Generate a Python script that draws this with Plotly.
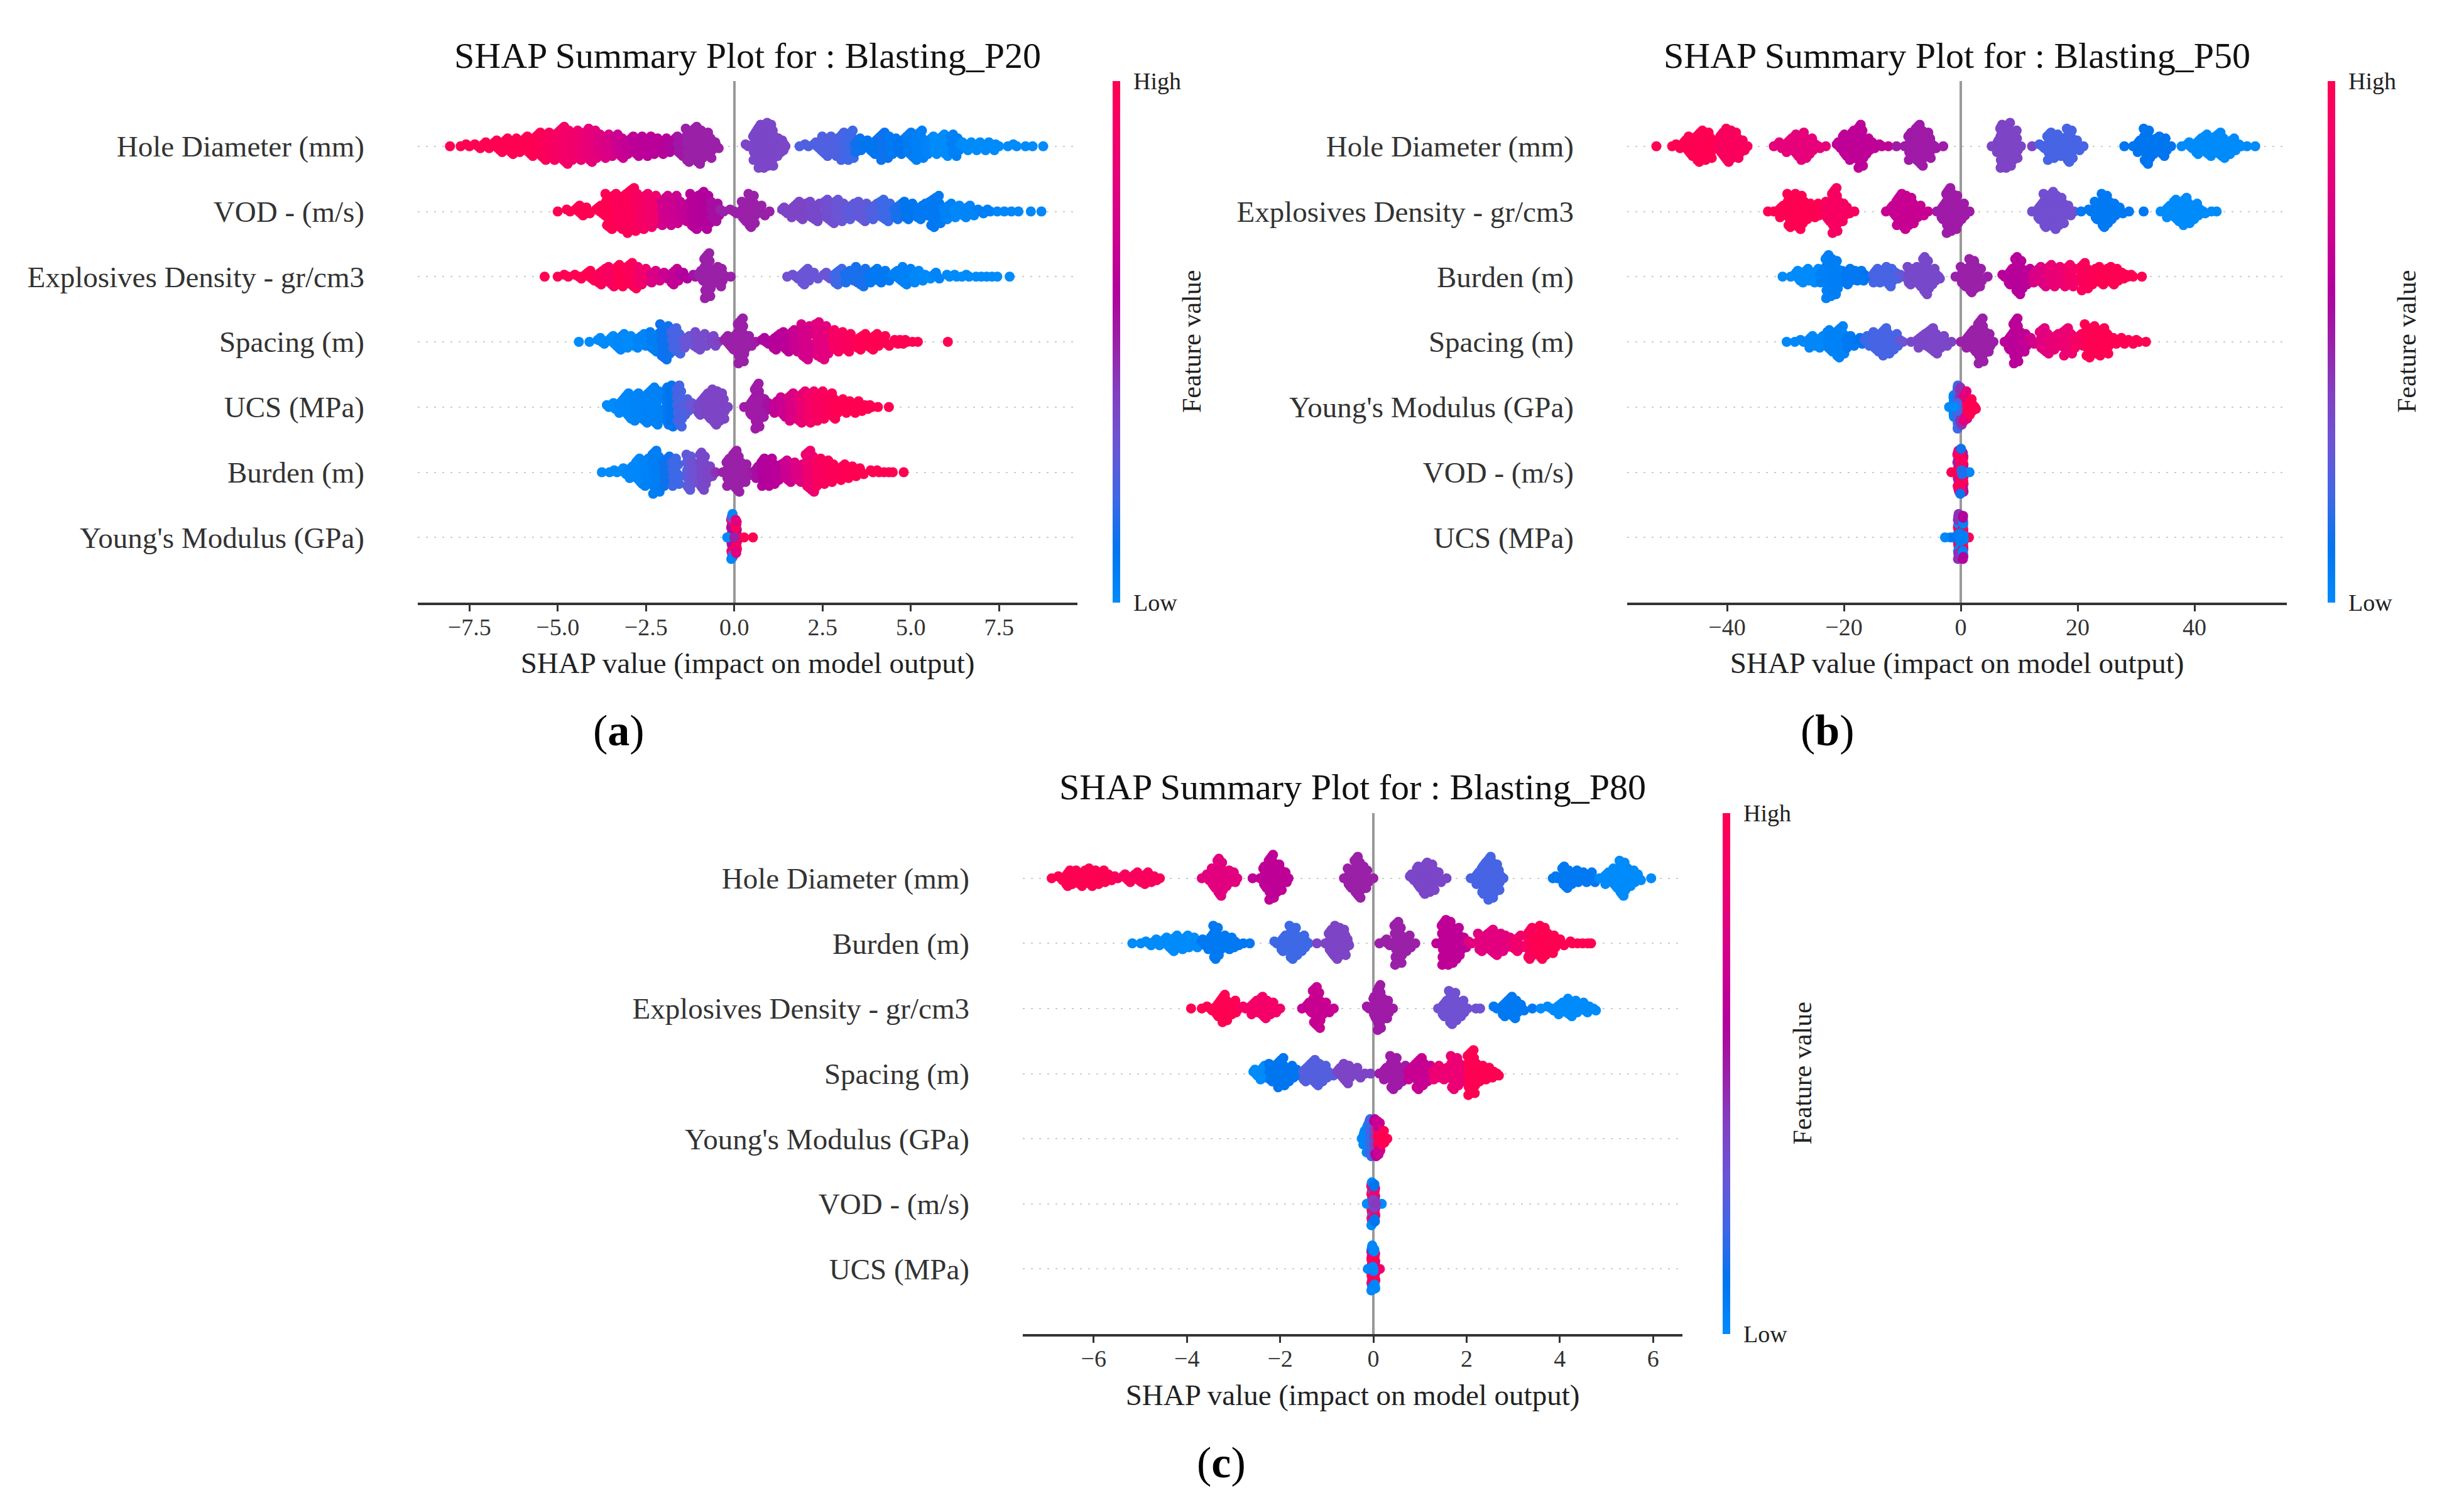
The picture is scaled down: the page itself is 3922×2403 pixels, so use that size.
import math
import plotly.graph_objects as go

W, H = 3922, 2403

# each row of a panel: (shap value, dots stacked at that value, feature value 0-1)
hole_p20 = [(-8.05,1,1),(-7.75,1,1),(-7.5,2,1),(-7.25,3,1),(-7,4,1),(-6.75,6,1),(-6.5,8,1),(-6.25,9,1),(-6,8,1),(-5.75,11,1),
    (-5.5,14,.98),(-5.25,15,.95),(-5,16,.92),(-4.75,20,.9),(-4.5,16,.88),(-4.25,15,.85),(-4,18,.82),(-3.75,13,.78),(-3.5,12,.75),
    (-3.25,13,.7),(-3,9,.66),(-2.75,11,.64),(-2.5,11,.63),(-2.25,10,.63),(-2,9,.62),(-1.75,8,.58),(-1.5,11,.53),(-1.25,18,.5),
    (-1,20,.5),(-.75,14,.5),(-.5,4,.5),(.4,2,.37),(.6,16,.37),(.75,23,.37),(.9,24,.37),(1.05,22,.37),(1.2,11,.37),(1.35,7,.37),(1.45,2,.37),
    (1.85,1,.24),(2.1,2,.24),(2.35,5,.24),(2.6,11,.24),(2.85,11,.24),(3.1,15,.22),(3.3,16,.2),(3.5,8,.12),(3.75,6,.1),(4,9,.1),
    (4.25,15,.12),(4.5,10,.08),(4.75,9,.1),(5,14,.07),(5.25,16,.05),(5.5,9,.03),(5.75,10,0),(6,12,0),(6.25,12,.05),(6.5,5,0),
    (6.75,5,0),(7,5,0),(7.25,5,0),(7.5,2,0),(7.75,1,0),(8,2,0),(8.25,1,0),(8.45,1,0),(8.75,1,0)]
vod_p20 = [(-5,1,1),(-4.65,2,1),(-4.4,6,1),(-4.15,4,1),(-3.8,6,1),(-3.5,19,1),(-3.2,19,.97),(-2.9,24,.97),(-2.6,19,.92),(-2.3,18,.88),
    (-1.95,16,.72),(-1.7,16,.7),(-1.4,11,.66),(-1.1,19,.62),(-.8,20,.6),(-.55,11,.56),(-.3,2,.5),(0,3,.5),(.3,11,.5),(.5,18,.5),(.75,6,.5),(1,1,.5),
    (1.45,4,.38),(1.7,8,.38),(1.95,10,.38),(2.3,11,.36),(2.7,13,.33),(3,12,.3),(3.3,9,.27),(3.65,11,.28),(3.95,9,.24),(4.3,12,.2),
    (4.65,9,.14),(4.95,10,.1),(5.3,9,.08),(5.7,17,.08),(6.05,9,.04),(6.35,7,.02),(6.65,7,.03),(7,3,.05),(7.25,2,.05),(7.45,1,.02),(7.65,1,.02),(7.85,1,.02),(8.05,1,.02),(8.4,1,.02),(8.7,1,.02)]
explosives_p20 = [(-5.37,1,1),(-5,1,1),(-4.7,2,1),(-4.4,3,1),(-4.1,6,1),(-3.75,9,.96),(-3.45,11,.93),(-3.2,12,1),(-2.9,14,.97),(-2.6,10,.88),
    (-2.25,7,.76),(-1.95,4,.7),(-1.7,9,.66),(-1.4,4,.6),(-1.1,2,.54),(-.95,6,.5),(-.75,24,.5),(-.55,8,.5),(-.4,11,.5),(-.25,2,.5),(-.1,1,.5),
    (1.5,1,.32),(1.75,3,.32),(2,9,.3),(2.3,4,.3),(2.65,4,.3),(2.95,9,.2),(3.25,7,.14),(3.6,11,.14),(3.95,8,.08),(4.25,7,.08),(4.6,6,.05),
    (4.9,10,.04),(5.2,7,.02),(5.5,3,0),(5.75,4,.03),(6.1,2,0),(6.3,2,0),(6.45,1,0),(6.65,2,0),(6.85,1,0),(7,1,0),(7.15,1,0),(7.3,1,0),(7.45,1,0),(7.8,1,0)]
spacing_p20 = [(-4.4,1,0),(-4.1,1,0),(-3.75,4,0),(-3.45,6,0),(-3.2,9,.02),(-2.95,7,0),(-2.65,8,.03),(-2.25,11,.06),(-1.95,19,.12),(-1.65,14,.22),
    (-1.3,7,.3),(-.95,10,.35),(-.6,6,.37),(-.45,1,.4),(-.2,6,.5),(0,9,.5),(.2,24,.5),(.4,7,.5),(.6,1,.52),(.9,4,.58),(1.2,9,.62),(1.5,11,.63),
    (1.75,12,.68),(2.05,19,.74),(2.5,20,.8),(2.9,12,.92),(3.2,11,.95),(3.6,9,1),(3.95,9,1),(4.25,6,1),(4.6,3,1),(4.75,3,1),(4.9,2,1),(5.05,1,1),(5.2,1,1),(6.05,1,1)]
ucs_p20 = [(-3.55,2,0),(-3.4,4,0),(-3.2,8,.02),(-3,14,.02),(-2.72,15,.03),(-2.44,17,.04),(-2.2,20,.04),(-1.87,20,.08),(-1.77,22,.1),(-1.55,22,.22),
    (-1.38,9,.24),(-1.17,4,.3),(-.95,9,.36),(-.75,14,.38),(-.53,19,.38),(-.35,15,.38),(-.18,1,.38),(.28,1,.52),(.5,9,.52),(.66,24,.52),(.81,11,.52),
    (.99,4,.55),(1.2,7,.66),(1.41,11,.7),(1.66,15,.76),(1.94,17,.84),(2.19,17,.9),(2.44,16,.94),(2.76,14,.97),(3,8,1),(3.25,7,1),(3.5,7,1),(3.75,3,1),(3.9,2,1),(4.07,1,1),(4.38,1,1)]
burden_p20 = [(-3.75,1,0),(-3.53,1,0),(-3.32,2,0),(-3.11,4,0),(-2.9,7,.02),(-2.69,14,.02),(-2.44,15,.04),(-2.2,23,.06),(-1.9,16,.12),(-1.66,15,.2),
    (-1.27,19,.28),(-1.1,11,.32),(-.88,20,.36),(-.7,7,.38),(-.53,1,.45),(-.32,1,.5),(-.14,15,.5),(.07,22,.5),(.28,11,.5),(.5,1,.52),(.67,7,.56),
    (.85,15,.6),(1.06,15,.62),(1.27,9,.64),(1.55,12,.7),(1.84,11,.78),(2.16,22,.87),(2.44,15,.94),(2.72,12,.97),(3.04,9,.98),(3.32,7,1),(3.6,4,1),(3.93,2,1),(4.1,2,1),(4.24,1,1),(4.38,1,1),(4.49,1,1),(4.8,1,1)]
young_p20 = [(-.06,8,.9),(-.06,6,.55),(-.06,4,.85),(-.06,4,.3),(-.06,2,.02),(.06,8,.6),(.06,6,.95),(.06,4,.8),(-.2,1,0),(.28,1,1),(.53,1,1),(.1,1,.95),(0,1,.5)]

hole_p50 = [(-52.1,1,1),(-49.4,1,1),(-48.3,3,1),(-47.2,6,1),(-46.1,11,1),(-44.6,17,1),(-43.2,15,1),(-41.8,4,.98),(-40.7,14,.95),(-39.6,18,.95),(-38.5,14,.95),(-37.4,7,.95),(-36.5,1,.95),
    (-32,1,.82),(-30.9,4,.82),(-29.4,8,.82),(-28,12,.82),(-26.9,15,.82),(-25.8,9,.82),(-24.4,3,.82),(-23.1,1,.82),
    (-20.8,4,.65),(-19.7,12,.65),(-18.6,16,.65),(-17.1,23,.65),(-16.1,9,.65),(-15,4,.65),(-13.5,2,.65),(-12.4,1,.65),
    (-11,1,.52),(-9.6,1,.52),(-8.5,15,.52),(-7,22,.52),(-5.6,14,.52),(-4.5,3,.52),(-3,1,.52),
    (5.3,1,.38),(6.4,7,.38),(7.1,23,.38),(8.2,24,.38),(9.3,16,.38),(10.3,1,.38),(12.2,1,.38),
    (14,3,.22),(15.4,15,.22),(16.9,12,.22),(18.7,18,.22),(19.8,6,.22),(21,1,.22),
    (28,1,.1),(29.5,1,.1),(30.6,7,.1),(31.9,19,.1),(33.1,9,.1),(34.6,11,.1),(36,1,.1),
    (37.8,1,0),(39.3,4,0),(40.7,9,0),(42.5,12,0),(44.4,14,0),(46.2,9,0),(48,2,0),(49,1,0),(50.4,1,0)]
explosives_p50 = [(-33,1,1),(-32,1,1),(-30.5,7,1),(-29,18,1),(-27.6,19,1),(-26.2,10,1),(-24.7,8,1),(-23.8,2,1),
    (-22.6,11,.93),(-21.5,24,.93),(-20.4,11,.93),(-19.3,4,.93),(-18.2,1,.93),
    (-12.8,1,.68),(-11.7,6,.68),(-10.6,16,.68),(-9.6,19,.68),(-8.5,15,.68),(-7,7,.68),(-5.6,1,.68),
    (-4.1,1,.52),(-3,9,.52),(-2,24,.52),(-.9,19,.52),(.2,9,.52),(1.5,1,.52),
    (12.2,1,.33),(13.6,9,.33),(14.7,18,.33),(16.1,20,.33),(17.2,15,.33),(18.3,6,.33),(19.4,1,.33),(20.6,1,.08),
    (22.3,2,.08),(23.4,10,.08),(24.7,18,.08),(25.9,10,.08),(27.4,4,.08),(28.8,1,.08),(31.3,1,.08),
    (34.2,1,0),(35.7,7,0),(37.1,12,0),(38.6,15,0),(40,9,0),(41.5,3,0),(42.9,1,0),(43.8,1,0)]
burden_p50 = [(-30.5,1,0),(-29.1,1,0),(-28,6,0),(-26.6,8,0),(-24.7,8,0),(-23.7,7,.05),(-22.6,23,.05),(-21.5,19,.06),(-20.4,7,.06),(-19.3,9,.08),(-18.2,6,.08),(-17.1,6,.08),(-16.1,2,.1),
    (-14.6,8,.22),(-13.5,7,.22),(-12.2,11,.22),(-11,4,.22),(-9.9,2,.28),(-8.5,10,.36),(-7,11,.36),(-5.9,20,.36),(-4.8,9,.36),(-3.8,3,.36),
    (-.9,1,.5),(.6,11,.5),(2,18,.5),(3.1,11,.5),(4.6,1,.5),
    (7.5,2,.62),(8.5,9,.62),(10,20,.62),(11.4,9,.64),(12.9,8,.76),(14.3,11,.78),(15.8,12,.84),(17.6,11,.86),(19,12,.9),(21.2,15,.96),(22.6,9,.98),(24.5,10,1),(26.3,10,1),(27.7,4,1),(28.6,2,1),(29.5,2,1),(31,1,1)]
spacing_p50 = [(-29.8,1,.02),(-28.4,1,.02),(-26.9,2,.02),(-25.5,7,.02),(-23.7,7,.02),(-22.2,12,.04),(-20.6,17,.04),(-19,7,.08),(-17.1,4,.1),(-16.1,6,.2),
    (-14.3,11,.22),(-12.8,15,.22),(-11.4,9,.22),(-9.9,2,.3),(-8.5,1,.36),(-6.7,8,.37),(-4.8,14,.37),(-3,7,.37),(-1.6,1,.38),
    (0,1,.5),(1.3,8,.5),(2.4,12,.5),(3.5,24,.5),(4.6,11,.5),(5.6,1,.5),
    (7.5,1,.63),(8.5,9,.63),(9.5,24,.63),(10.7,11,.65),(12.2,4,.72),(14.3,14,.8),(16.1,9,.84),(18.3,15,.86),(20.1,8,.92),(22.3,18,1),(24.5,15,1),(26.3,4,1),(27.7,4,1),(29.2,3,1),(30.5,2,1),(31.7,1,1)]
young_p50 = [(-2,1,0),(-1.2,12,.03),(-.5,23,.2),(.1,20,.45),(.8,8,1),(.8,8,.8),(1.6,9,1),(2.4,3,1),(-.6,5,.22),(-1.1,1,0)]
vod_p50 = [(-.4,8,.92),(-.4,6,.5),(-.4,4,.95),(-.4,4,.8),(.4,8,.7),(.4,8,1),(.4,5,.55),(0,22,.95),(0,2,.12),(-1.6,1,.98),(1.5,1,.02),(.6,1,0),(.2,3,.15)]
ucs_p50 = [(-.4,6,.3),(-.4,6,.95),(-.4,4,.02),(-.4,8,.45),(.4,7,.1),(.4,6,1),(.4,6,.03),(.4,4,.6),(0,1,.08),(-2.7,1,.02),(-1.8,1,.04),(-1.2,1,.1),(1.4,1,1),(.5,3,.05),(-.2,5,.06)]

hole_p80 = [(-6.9,1,1),(-6.7,3,1),(-6.55,9,1),(-6.42,8,1),(-6.24,9,1),(-6.02,10,1),(-5.84,8,1),(-5.66,4,1),(-5.48,2,.95),(-5.3,5,.95),(-5.08,6,.95),(-4.85,7,.95),(-4.67,3,.95),(-4.58,1,.95),
    (-3.68,1,.8),(-3.55,4,.8),(-3.41,11,.8),(-3.28,20,.8),(-3.14,9,.8),(-3,6,.8),(-2.92,1,.8),
    (-2.59,1,.65),(-2.43,1,.65),(-2.31,12,.65),(-2.18,24,.65),(-2.02,15,.65),(-1.89,6,.65),(-1.82,1,.65),
    (-.63,1,.5),(-.49,11,.5),(-.33,22,.5),(-.18,12,.5),(0,1,.5),
    (.84,4,.37),(.99,12,.37),(1.12,17,.37),(1.26,15,.37),(1.39,6,.37),(1.57,1,.37),
    (2.09,1,.22),(2.25,7,.22),(2.38,17,.22),(2.52,23,.22),(2.65,15,.22),(2.79,2,.22),
    (3.85,1,.08),(3.95,2,.08),(4.13,12,.08),(4.31,8,.08),(4.49,6,.08),(4.67,6,.08),
    (4.85,1,0),(5.03,7,0),(5.21,11,0),(5.35,19,0),(5.53,10,0),(5.7,4,0),(5.96,1,0)]
burden_p80 = [(-5.17,1,0),(-4.99,1,0),(-4.81,3,0),(-4.63,4,0),(-4.45,6,0),(-4.27,9,0),(-4.04,8,0),(-3.86,6,0),
    (-3.64,4,.08),(-3.5,8,.08),(-3.37,18,.08),(-3.23,8,.08),(-3.05,7,.08),(-2.92,3,.08),(-2.79,1,.08),(-2.65,1,.08),
    (-2.07,2,.2),(-1.93,9,.2),(-1.71,18,.2),(-1.53,9,.2),(-1.39,2,.2),
    (-1.21,1,.38),(-1.03,1,.38),(-.9,14,.38),(-.76,18,.38),(-.63,14,.38),(-.54,4,.38),
    (.13,1,.5),(.31,4,.5),(.54,23,.5),(.72,9,.5),(.9,1,.5),
    (1.35,1,.65),(1.53,24,.65),(1.66,23,.65),(1.8,17,.65),(1.93,7,.65),
    (2.11,2,.8),(2.34,10,.8),(2.56,14,.8),(2.79,10,.8),(2.92,6,.82),(3.1,9,.88),(3.37,17,.95),(3.5,9,1),(3.64,18,1),(3.82,11,1),(4.04,4,1),(4.27,2,1),(4.38,1,1),(4.49,1,1),(4.6,1,1),(4.67,1,1)]
explosives_p80 = [(-3.91,1,1),(-3.68,1,1),(-3.5,3,1),(-3.32,9,1),(-3.19,15,1),(-3,8,1),(-2.88,1,1),
    (-2.74,2,.9),(-2.56,8,.9),(-2.34,12,.9),(-2.16,7,.9),(-2,1,.9),
    (-1.53,1,.68),(-1.39,6,.68),(-1.21,22,.68),(-1.03,7,.68),(-.85,1,.68),
    (-.09,2,.52),(.04,12,.52),(.13,24,.52),(.27,11,.52),(.42,1,.52),
    (1.39,1,.32),(1.53,9,.32),(1.71,18,.32),(1.89,9,.32),(2.02,1,.32),(2.2,1,.32),(2.29,1,.32),
    (2.65,2,.08),(2.83,9,.08),(3.01,12,.08),(3.19,4,.08),(3.41,1,.08),
    (3.59,1,0),(3.82,3,0),(4.04,7,0),(4.27,10,0),(4.49,6,0),(4.72,3,0)]
spacing_p80 = [(-2.52,4,0),(-2.38,8,0),(-2.16,10,.1),(-1.98,16,.1),(-1.8,9,.1),(-1.62,4,.1),
    (-1.44,9,.25),(-1.26,14,.25),(-1.08,10,.25),(-.9,3,.25),(-.72,6,.38),(-.57,11,.38),(-.36,6,.38),(-.18,1,.38),(-.06,1,.38),
    (.13,1,.52),(.27,7,.52),(.45,18,.52),(.63,9,.52),(.81,8,.68),(.99,17,.68),(1.17,10,.68),
    (1.35,8,.85),(1.57,7,.85),(1.75,18,.85),(1.93,10,.85),(2.11,24,1),(2.29,10,1),(2.47,7,1),(2.65,3,1)]
young_p80 = [(-.25,1,0),(-.2,8,.02),(-.12,15,.02),(-.05,20,.2),(.05,16,.4),(.05,4,.6),(.12,10,1),(.12,8,.7),(.2,8,1),(.3,1,1)]
vod_p80 = [(-.03,6,.4),(-.03,6,.95),(-.03,4,.3),(-.03,4,.85),(-.03,3,.02),(.03,8,.5),(.03,8,.9),(.03,4,.1),(-.14,1,0),(.18,1,0),(0,5,.4),(.06,1,.42)]
ucs_p80 = [(-.03,6,.55),(-.03,6,.95),(-.03,6,.8),(-.03,4,.1),(-.03,2,.02),(.03,8,.7),(.03,8,1),(.03,5,.02),(-.12,1,.02),(.14,1,.9),(0,1,.05),(0,2,.02)]

labels_p20 = ["Hole Diameter (mm)", "VOD - (m/s)", "Explosives Density - gr/cm3", "Spacing (m)", "UCS (MPa)", "Burden (m)", "Young's Modulus (GPa)"]
labels_p50 = ["Hole Diameter (mm)", "Explosives Density - gr/cm3", "Burden (m)", "Spacing (m)", "Young's Modulus (GPa)", "VOD - (m/s)", "UCS (MPa)"]
labels_p80 = ["Hole Diameter (mm)", "Burden (m)", "Explosives Density - gr/cm3", "Spacing (m)", "Young's Modulus (GPa)", "VOD - (m/s)", "UCS (MPa)"]

rows_p20 = [hole_p20, vod_p20, explosives_p20, spacing_p20, ucs_p20, burden_p20, young_p20]
rows_p50 = [hole_p50, explosives_p50, burden_p50, spacing_p50, young_p50, vod_p50, ucs_p50]
rows_p80 = [hole_p80, burden_p80, explosives_p80, spacing_p80, young_p80, vod_p80, ucs_p80]

ticks_p20 = [-7.5, -5, -2.5, 0, 2.5, 5, 7.5]
ticktext_p20 = ["−7.5", "−5.0", "−2.5", "0.0", "2.5", "5.0", "7.5"]
ticks_p50 = [-40, -20, 0, 20, 40]
ticktext_p50 = ["−40", "−20", "0", "20", "40"]
ticks_p80 = [-6, -4, -2, 0, 2, 4, 6]
ticktext_p80 = ["−6", "−4", "−2", "0", "2", "4", "6"]

red_blue = [[0, "#008bfb"], [.1, "#0075f0"], [.2, "#3d68e6"], [.3, "#6a55d6"], [.4, "#8240c2"], [.5, "#9a20a8"],
            [.6, "#b2009c"], [.7, "#cc0090"], [.8, "#e2007e"], [.9, "#f50068"], [1, "#ff0052"]]

FONT = "Liberation Serif"
STEP = 0.03
MAX_SPREAD = 22  # px, a stack of dots fills its bin up to this width


def swarm(rows, unit):
    # same layering as shap: stack alternately above and below the row line,
    # dots of a stack are spread over their bin so columns do not show
    xs, ys, cs = [], [], []
    for i, row in enumerate(rows):
        vals = sorted(set(b[0] for b in row))
        seen = {}
        for val, count, feat in row:
            j = vals.index(val)
            gaps = [MAX_SPREAD / unit]
            if j > 0:
                gaps.append(val - vals[j - 1])
            if j < len(vals) - 1:
                gaps.append(vals[j + 1] - val)
            width = min(gaps)
            for _ in range(count):
                layer = seen.get(val, 0)
                seen[val] = layer + 1
                xs.append(val + width * ((layer * 0.618 + 0.5) % 1 - 0.5))
                ys.append(6 - i + math.ceil(layer / 2) * (layer % 2 * 2 - 1) * STEP)
                cs.append(feat)
    return xs, ys, cs


fig = go.Figure()

panels = [
    dict(rows=rows_p20, labels=labels_p20, ticks=ticks_p20, ticktext=ticktext_p20, name="P20", letter="a",
         left=665, right=1715, top=129, bottom=959, zero=1168.7, unit=56.2, bar=1771, title_y=88, letter_x=985, letter_y=1163, fv_x=1897),
    dict(rows=rows_p50, labels=labels_p50, ticks=ticks_p50, ticktext=ticktext_p50, name="P50", letter="b",
         left=2590, right=3640, top=129, bottom=959, zero=3121, unit=9.3, bar=3705, title_y=88, letter_x=2909, letter_y=1163, fv_x=3831),
    dict(rows=rows_p80, labels=labels_p80, ticks=ticks_p80, ticktext=ticktext_p80, name="P80", letter="c",
         left=1628, right=2678, top=1294, bottom=2123, zero=2186, unit=74.2, bar=2742, title_y=1252, letter_x=1944, letter_y=2327, fv_x=2868),
]

annotations = []
for k, p in enumerate(panels, start=1):
    xs, ys, cs = swarm(p["rows"], p["unit"])
    fig.add_trace(go.Scatter(
        x=xs, y=ys, mode="markers", xaxis=f"x{k}", yaxis=f"y{k}", showlegend=False, hoverinfo="skip",
        marker=dict(
            size=16, color=cs, cmin=0, cmax=1, colorscale=red_blue, line_width=0,
            colorbar=dict(
                x=p["bar"] / W, xanchor="left", xpad=0, ypad=0, yanchor="top", y=1 - p["top"] / H,
                len=(p["bottom"] - p["top"]) / H, thickness=12, outlinewidth=0,
                tickvals=[0, 1], ticktext=["Low", "High"], ticks="outside", ticklen=14,
                tickcolor="rgba(0,0,0,0)", tickfont=dict(family=FONT, size=38, color="#222222"),
            ),
        ),
    ))
    fig.update_layout({
        f"xaxis{k}": dict(
            domain=[p["left"] / W, p["right"] / W], anchor=f"y{k}",
            range=[(p["left"] - p["zero"]) / p["unit"], (p["right"] - p["zero"]) / p["unit"]],
            tickvals=p["ticks"], ticktext=p["ticktext"], ticks="outside", ticklen=10, tickwidth=3,
            tickcolor="#333333", showline=True, linecolor="#333333", linewidth=4, showgrid=False,
            zeroline=True, zerolinecolor="#999999", zerolinewidth=4,
            tickfont=dict(family=FONT, size=38, color="#333333"), ticklabelstandoff=-8,
            title=dict(text="SHAP value (impact on model output)", standoff=22,
                       font=dict(family=FONT, size=47, color="#222222")),
        ),
        f"yaxis{k}": dict(
            domain=[1 - p["bottom"] / H, 1 - p["top"] / H], anchor=f"x{k}", range=[-1, 7],
            tickvals=[6, 5, 4, 3, 2, 1, 0], ticktext=p["labels"], showline=False, zeroline=False,
            showgrid=True, gridcolor="#cccccc", griddash="3px,10px", gridwidth=2, ticks="",
            tickfont=dict(family=FONT, size=47, color="#333333"), ticklabelstandoff=84,
        ),
    })
    annotations.append(dict(text=f"SHAP Summary Plot for : Blasting_{p['name']}", x=(p["left"] + p["right"]) / 2 / W,
                            y=1 - p["title_y"] / H, font=dict(family=FONT, size=58, color="#111111")))
    annotations.append(dict(text="Feature value", x=p["fv_x"] / W, y=1 - (p["top"] + p["bottom"]) / 2 / H, textangle=-90,
                            font=dict(family=FONT, size=42, color="#222222")))
    annotations.append(dict(text=f"(<b>{p['letter']}</b>)", x=p["letter_x"] / W, y=1 - p["letter_y"] / H,
                            font=dict(family=FONT, size=70, color="#000000")))

for a in annotations:
    a.update(xref="paper", yref="paper", xanchor="center", yanchor="middle", showarrow=False)

fig.update_layout(width=W, height=H, margin=dict(l=0, r=0, t=0, b=0), paper_bgcolor="white",
                  plot_bgcolor="white", annotations=annotations)

fig.write_html("out.html", config={"displayModeBar": False}, post_script="document.body.style.margin='0';")
